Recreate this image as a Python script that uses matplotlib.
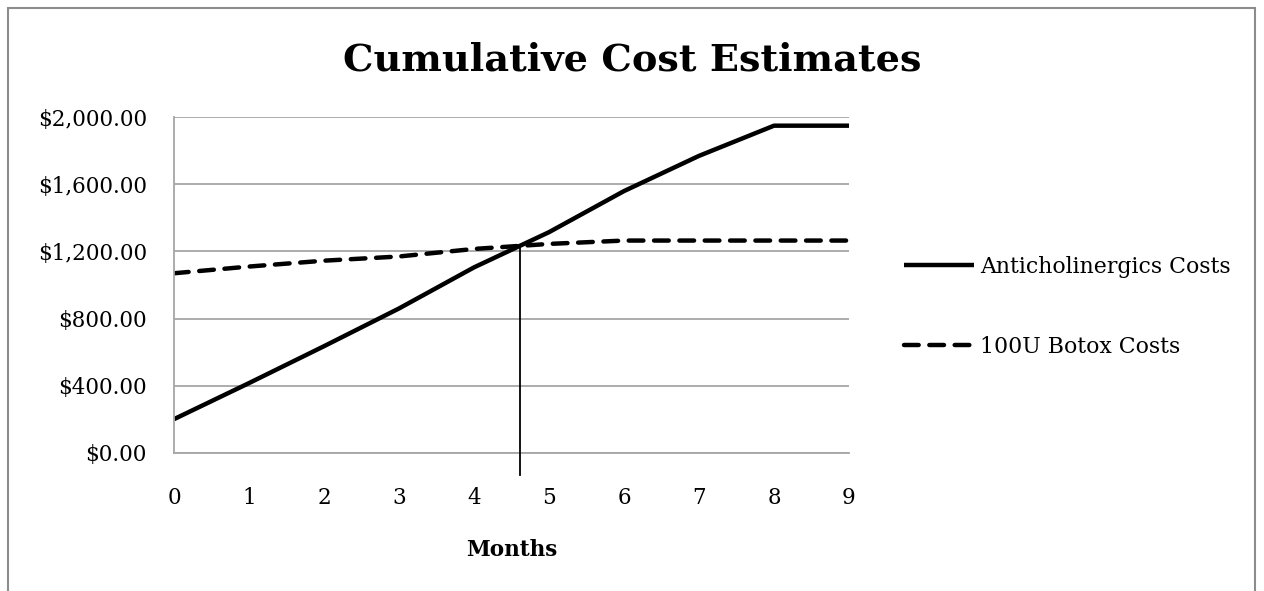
import numpy as np
import matplotlib
matplotlib.use("Agg")
import matplotlib.pyplot as plt
from matplotlib.patches import Rectangle
from matplotlib.ticker import FuncFormatter

# data
months = [0, 1, 2, 3, 4, 5, 6, 7, 8, 9]
anticholinergics = [200, 415, 635, 860, 1105, 1315, 1560, 1770, 1950, 1950]
botox = [1070, 1110, 1145, 1170, 1215, 1245, 1265, 1265, 1265, 1265]
series_labels = ["Anticholinergics Costs", "100U Botox Costs"]
y_ticks = [0, 400, 800, 1200, 1600, 2000]

plt.rcParams['font.family'] = ['DejaVu Serif']

fig = plt.figure(figsize=(12.64, 5.91), dpi=100)
ax = fig.add_axes([174 / 1264, 1 - 452.7 / 591, (849 - 174) / 1264, (452.7 - 117.3) / 591])

l1, = ax.plot(months, anticholinergics, color='black', lw=3.2, solid_capstyle='butt',
              label=series_labels[0])
l2, = ax.plot(months, botox, color='black', lw=3.2, dashes=(3.3, 2.4),
              dash_capstyle='round', label=series_labels[1])

# crossing point of the two series -> vertical marker line
a = np.array(anticholinergics, dtype=float)
b = np.array(botox, dtype=float)
d = a - b
i = np.where((d[:-1] < 0) & (d[1:] >= 0))[0][0]
t = -d[i] / (d[i + 1] - d[i])
xc = months[i] + t
yc = a[i] + t * (a[i + 1] - a[i])
ax.plot([xc, xc], [yc, -135], color='black', lw=1.3, clip_on=False, zorder=3)

ax.set_xlim(0, 9)
ax.set_ylim(0, 2000)
ax.set_xticks(months)
ax.set_yticks(y_ticks)
ax.yaxis.set_major_formatter(FuncFormatter(lambda v, p: "${:,.2f}".format(v)))
ax.grid(axis='y', color='#a6a6a6', lw=1.3)
ax.set_axisbelow(True)
for s in ['top', 'right']:
    ax.spines[s].set_visible(False)
for s in ['left', 'bottom']:
    ax.spines[s].set_color('#a6a6a6')
    ax.spines[s].set_linewidth(1.3)
ax.tick_params(length=0, labelsize=15.5, colors='black')
ax.tick_params(axis='y', pad=19.5)
ax.tick_params(axis='x', pad=25)
ax.set_xlabel("Months", fontsize=15.5, fontweight='bold', labelpad=21)

fig.text(0.5, 1 - 60 / 591, "Cumulative Cost Estimates", ha='center', va='center',
         fontsize=27.5, fontweight='bold')

fig.legend(handles=[l1, l2], loc='center left', bbox_to_anchor=(893 / 1264, 1 - 307 / 591),
           frameon=False, fontsize=15.8, handlelength=3.2, handletextpad=0.25,
           labelspacing=2.65, borderpad=0)

# chart frame
fig.patches.append(Rectangle((8 / 1264, -0.1), 1247 / 1264, 1.1 - 8 / 591,
                             transform=fig.transFigure, fill=False,
                             edgecolor='#8c8c8c', lw=1.5, clip_on=False))

fig.savefig("out.png", dpi=100)
